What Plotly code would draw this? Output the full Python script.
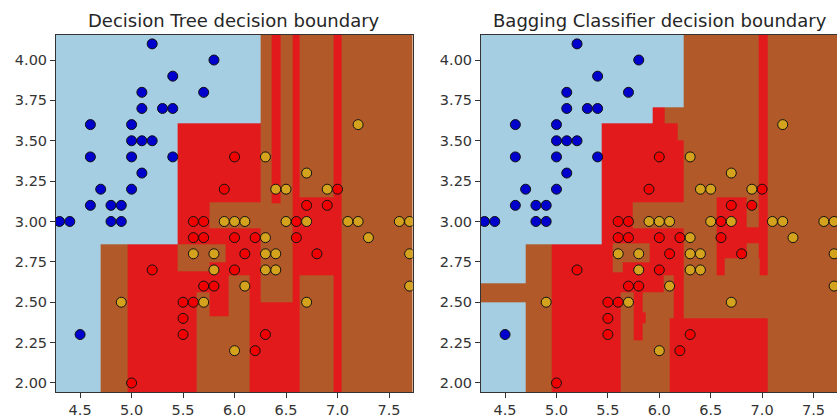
import numpy as np
import plotly.graph_objects as go

# ---- data: iris (sepal length, sepal width) points shown, by class ----
setosa_x = [5.2, 5.8, 5.4, 5.1, 5.7, 5.1, 5.3, 5.4, 4.6, 5.0, 5.0, 5.1, 5.2, 4.6, 5.0, 5.4, 5.1, 4.7, 5.0, 4.6, 4.8, 4.9, 4.3, 4.4, 4.8, 4.9, 4.5]
setosa_y = [4.1, 4.0, 3.9, 3.8, 3.8, 3.7, 3.7, 3.7, 3.6, 3.6, 3.5, 3.5, 3.5, 3.4, 3.4, 3.4, 3.3, 3.2, 3.2, 3.1, 3.1, 3.1, 3.0, 3.0, 3.0, 3.0, 2.3]

versicolor_x = [6.0, 5.9, 7.0, 6.7, 6.9, 5.6, 5.7, 6.6, 5.6, 5.7, 6.0, 6.2, 6.6, 6.1, 6.8, 5.2, 6.0, 5.7, 5.8, 5.5, 5.6, 5.5, 5.5, 6.3, 6.2, 5.0]
versicolor_y = [3.4, 3.2, 3.2, 3.1, 3.1, 3.0, 3.0, 3.0, 2.9, 2.9, 2.9, 2.9, 2.9, 2.8, 2.8, 2.7, 2.7, 2.6, 2.6, 2.5, 2.5, 2.4, 2.3, 2.3, 2.2, 2.0]

virginica_x = [7.2, 6.3, 6.7, 6.4, 6.5, 6.9, 5.9, 6.0, 6.1, 6.5, 6.7, 7.1, 7.2, 7.6, 7.7, 6.3, 7.3, 5.6, 5.8, 6.3, 6.4, 7.7, 5.8, 6.3, 6.4, 6.1, 7.7, 4.9, 5.7, 6.7, 6.0]
virginica_y = [3.6, 3.4, 3.3, 3.2, 3.2, 3.2, 3.0, 3.0, 3.0, 3.0, 3.0, 3.0, 3.0, 3.0, 3.0, 2.9, 2.9, 2.8, 2.8, 2.8, 2.8, 2.8, 2.7, 2.7, 2.7, 2.6, 2.6, 2.5, 2.5, 2.5, 2.2]

# ---- predicted regions (x0, x1, y0, y1, class), painted in order over class 2 ----
tree_regions = [
    (4.0, 5.444, 2.86, 4.5, 0),
    (4.0, 4.704, 1.5, 2.86, 0),
    (5.444, 6.251, 3.61, 4.5, 0),
    (4.964, 5.635, 1.5, 2.86, 1),
    (5.444, 6.251, 2.667, 3.61, 1),
    (5.444, 5.758, 2.69, 2.86, 2),
    (5.758, 5.917, 2.75, 2.86, 2),
    (5.635, 5.758, 2.563, 2.69, 1),
    (5.758, 5.943, 2.41, 2.75, 1),
    (5.758, 6.251, 2.955, 3.116, 2),
    (6.144, 6.63, 1.5, 2.5, 1),
    (6.144, 6.251, 2.5, 2.955, 1),
    (6.361, 6.443, 3.113, 4.5, 1),
    (6.565, 6.63, 1.5, 4.5, 1),
    (6.63, 6.961, 2.667, 3.153, 1),
    (6.961, 7.042, 1.5, 4.5, 1),
]

bagging_regions = [
    (4.0, 5.44, 2.857, 4.5, 0),
    (5.44, 6.24, 3.705, 4.5, 0),
    (5.44, 5.936, 3.608, 3.705, 0),
    (4.0, 4.696, 2.615, 2.857, 0),
    (4.0, 4.696, 1.5, 2.5, 0),
    (4.956, 5.626, 1.5, 2.857, 1),
    (5.44, 6.24, 3.122, 3.505, 1),
    (5.44, 6.18, 3.505, 3.608, 1),
    (5.936, 6.05, 3.608, 3.705, 1),
    (5.44, 5.74, 2.563, 3.122, 1),
    (5.74, 6.234, 2.563, 2.958, 1),
    (5.544, 5.903, 2.749, 2.862, 2),
    (5.544, 5.646, 2.687, 2.749, 2),
    (6.04, 6.136, 2.563, 2.667, 2),
    (5.747, 5.838, 2.264, 2.563, 1),
    (5.838, 5.87, 2.37, 2.44, 1),
    (6.136, 6.234, 2.398, 2.958, 1),
    (6.102, 7.05, 1.5, 2.398, 1),
    (6.56, 6.847, 2.77, 3.15, 1),
    (6.56, 6.64, 2.667, 2.77, 1),
    (6.847, 6.968, 2.862, 2.966, 1),
    (6.968, 7.05, 2.77, 4.5, 1),
    (6.98, 7.05, 2.667, 2.77, 1),
]

titles = ["Decision Tree decision boundary", "Bagging Classifier decision boundary"]
x_ticks = [4.5, 5.0, 5.5, 6.0, 6.5, 7.0, 7.5]
y_ticks = [2.0, 2.25, 2.5, 2.75, 3.0, 3.25, 3.5, 3.75, 4.0]

# ---- styling ----
BOUNDS = (4.0, 8.0, 1.5, 4.5)
XRANGE = [4.266, 7.728]
YRANGE = [1.944, 4.155]
REGION_COLORS = ["#a6cee3", "#e31a1c", "#b15928"]
POINT_COLORS = ["#0000cc", "#f00000", "#d4a21c"]
W, H = 837, 418
DOMAINS_X = [[56 / W, 412.5 / W], [481 / W, 1.0]]
DOMAIN_Y = [1 - 392 / H, 1 - 35 / H]


def region_grid(rects):
    xs = sorted(set([BOUNDS[0], BOUNDS[1]] + [r[0] for r in rects] + [r[1] for r in rects]))
    ys = sorted(set([BOUNDS[2], BOUNDS[3]] + [r[2] for r in rects] + [r[3] for r in rects]))
    xs = np.array(xs)
    ys = np.array(ys)
    xc = (xs[:-1] + xs[1:]) / 2
    yc = (ys[:-1] + ys[1:]) / 2
    z = np.full((len(yc), len(xc)), 2)
    for x0, x1, y0, y1, c in rects:
        xm = (xc > x0) & (xc < x1)
        ym = (yc > y0) & (yc < y1)
        z[np.ix_(ym, xm)] = c
    return xs, ys, z


colorscale = [
    [0.0, REGION_COLORS[0]], [1 / 3, REGION_COLORS[0]],
    [1 / 3, REGION_COLORS[1]], [2 / 3, REGION_COLORS[1]],
    [2 / 3, REGION_COLORS[2]], [1.0, REGION_COLORS[2]],
]

fig = go.Figure()
classes = [(setosa_x, setosa_y), (versicolor_x, versicolor_y), (virginica_x, virginica_y)]

for i, rects in enumerate([tree_regions, bagging_regions]):
    xa = "x" if i == 0 else "x2"
    ya = "y" if i == 0 else "y2"
    xs, ys, z = region_grid(rects)
    fig.add_trace(go.Heatmap(x=xs, y=ys, z=z, zmin=0, zmax=2, colorscale=colorscale,
                             showscale=False, hoverinfo="skip", xaxis=xa, yaxis=ya))
    for k, (px, py) in enumerate(classes):
        fig.add_trace(go.Scatter(x=px, y=py, mode="markers", xaxis=xa, yaxis=ya,
                                 marker=dict(size=10, color=POINT_COLORS[k],
                                             line=dict(color="#111111", width=1)),
                                 showlegend=False, hoverinfo="skip"))

axis_common = dict(showgrid=False, zeroline=False, showline=True, mirror=True,
                   linecolor="#333333", linewidth=1, ticks="outside", ticklen=5,
                   tickcolor="#333333", tickfont=dict(family="DejaVu Sans", size=14.5, color="#333333"))

fig.update_layout(
    width=W, height=H, margin=dict(l=0, r=0, t=0, b=0),
    paper_bgcolor="white", plot_bgcolor="white", showlegend=False,
    xaxis=dict(domain=DOMAINS_X[0], range=XRANGE, tickvals=x_ticks, tickformat=".1f", anchor="y", **axis_common),
    yaxis=dict(domain=DOMAIN_Y, range=YRANGE, tickvals=y_ticks, tickformat=".2f", anchor="x", **axis_common),
    xaxis2=dict(domain=DOMAINS_X[1], range=XRANGE, tickvals=x_ticks, tickformat=".1f", anchor="y2", **axis_common),
    yaxis2=dict(domain=DOMAIN_Y, range=YRANGE, tickvals=y_ticks, tickformat=".2f", anchor="x2", **axis_common),
)

for i, t in enumerate(titles):
    d = DOMAINS_X[i]
    cx = (d[0] + (d[1] if i == 0 else 838 / W)) / 2
    fig.add_annotation(text=t, x=cx, y=1 - 20 / H, xref="paper", yref="paper",
                       xanchor="center", yanchor="middle", showarrow=False,
                       font=dict(family="DejaVu Sans", size=18, color="#262626"))

fig.write_html("out.html")
